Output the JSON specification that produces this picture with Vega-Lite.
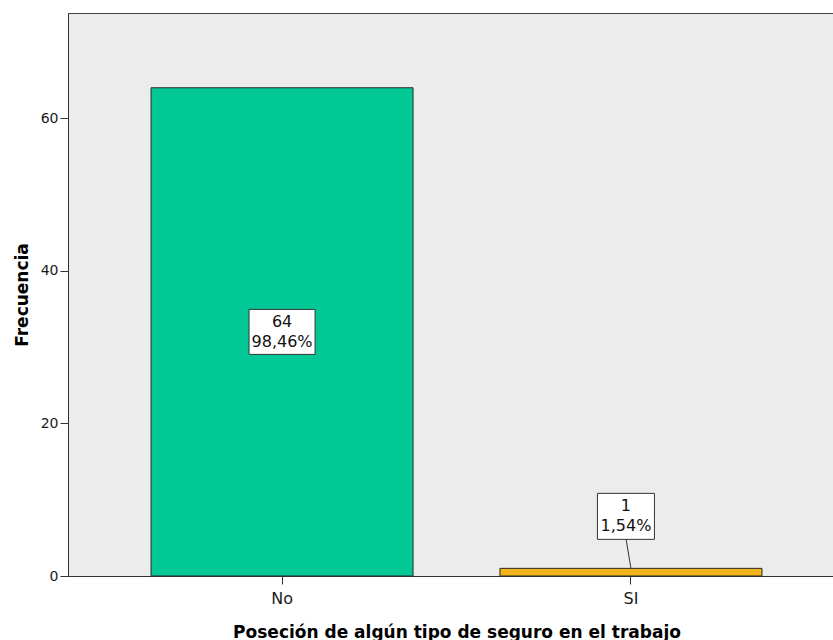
{
  "$schema": "https://vega.github.io/schema/vega-lite/v6.json",
  "autosize": "none",
  "padding": {"left": 68, "top": 13, "right": 0, "bottom": 64},
  "width": 777,
  "height": 563,
  "background": "white",
  "config": {
    "view": {"fill": "#ececec", "stroke": "#444444", "strokeWidth": 1},
    "axis": {
      "domainColor": "#333333",
      "tickColor": "#333333",
      "tickSize": 8,
      "labelColor": "#1a1a1a",
      "labelFont": "DejaVu Sans",
      "titleFont": "DejaVu Sans",
      "titleFontSize": 17,
      "titleFontWeight": "bold",
      "titleColor": "#000000",
      "grid": false
    }
  },
  "data": {
    "values": [
      {"cat": "No", "value": 64, "label": "64\n98,46%"},
      {"cat": "SI", "value": 1, "label": "1\n1,54%"}
    ]
  },
  "encoding": {
    "x": {
      "field": "cat",
      "type": "nominal",
      "sort": ["No", "SI"],
      "scale": {"paddingInner": 0.249, "paddingOuter": 0.238},
      "axis": {
        "title": "Poseción de algún tipo de seguro en el trabajo",
        "labelAngle": 0,
        "labelFontSize": 16,
        "labelPadding": 6,
        "titleX": 388.5,
        "titleY": 61,
        "titleBaseline": "alphabetic",
        "titleAlign": "center"
      }
    }
  },
  "layer": [
    {
      "mark": {"type": "bar", "stroke": "#2a2a2a", "strokeWidth": 1},
      "encoding": {
        "y": {
          "field": "value",
          "type": "quantitative",
          "scale": {"domain": [0, 73.8], "nice": false},
          "axis": {
            "title": "Frecuencia",
            "values": [0, 20, 40, 60],
            "labelFontSize": 14,
            "labelPadding": 2,
            "titleX": -41,
            "titleY": 281.5,
            "titleAngle": -90,
            "titleBaseline": "alphabetic",
            "titleAlign": "center"
          }
        },
        "color": {
          "field": "cat",
          "type": "nominal",
          "scale": {"domain": ["No", "SI"], "range": ["#02c896", "#f2b51c"]},
          "legend": null
        }
      }
    },
    {
      "transform": [{"filter": "datum.value >= 5"}, {"calculate": "datum.value / 2", "as": "mid"}],
      "mark": {
        "type": "point",
        "shape": "M-1.467,-1L1.467,-1L1.467,1L-1.467,1Z",
        "size": 2025,
        "filled": true,
        "fill": "white",
        "stroke": "#333333",
        "strokeWidth": 1,
        "opacity": 1
      },
      "encoding": {"y": {"field": "mid", "type": "quantitative"}}
    },
    {
      "transform": [{"filter": "datum.value >= 5"}, {"calculate": "datum.value / 2", "as": "mid"}],
      "mark": {
        "type": "text",
        "lineBreak": "\n",
        "fontSize": 16,
        "lineHeight": 20,
        "font": "DejaVu Sans",
        "color": "#111111",
        "align": "center",
        "baseline": "middle",
        "dy": -10
      },
      "encoding": {
        "y": {"field": "mid", "type": "quantitative"},
        "text": {"field": "label", "type": "nominal"}
      }
    },
    {
      "transform": [{"filter": "datum.value < 5"}],
      "mark": {"type": "rule", "color": "#333333", "strokeWidth": 1, "x2Offset": -5, "y2Offset": -30},
      "encoding": {
        "y": {"field": "value", "type": "quantitative"},
        "y2": {"field": "value"},
        "x2": {"field": "cat"}
      }
    },
    {
      "transform": [{"filter": "datum.value < 5"}],
      "mark": {
        "type": "point",
        "shape": "M-1.239,-1L1.239,-1L1.239,1L-1.239,1Z",
        "size": 2116,
        "filled": true,
        "fill": "white",
        "stroke": "#333333",
        "strokeWidth": 1,
        "opacity": 1,
        "xOffset": -5,
        "yOffset": -52
      },
      "encoding": {"y": {"field": "value", "type": "quantitative"}}
    },
    {
      "transform": [{"filter": "datum.value < 5"}],
      "mark": {
        "type": "text",
        "lineBreak": "\n",
        "fontSize": 16,
        "lineHeight": 20,
        "font": "DejaVu Sans",
        "color": "#111111",
        "align": "center",
        "baseline": "middle",
        "xOffset": -5,
        "yOffset": -52,
        "dy": -10
      },
      "encoding": {
        "y": {"field": "value", "type": "quantitative"},
        "text": {"field": "label", "type": "nominal"}
      }
    }
  ]
}
